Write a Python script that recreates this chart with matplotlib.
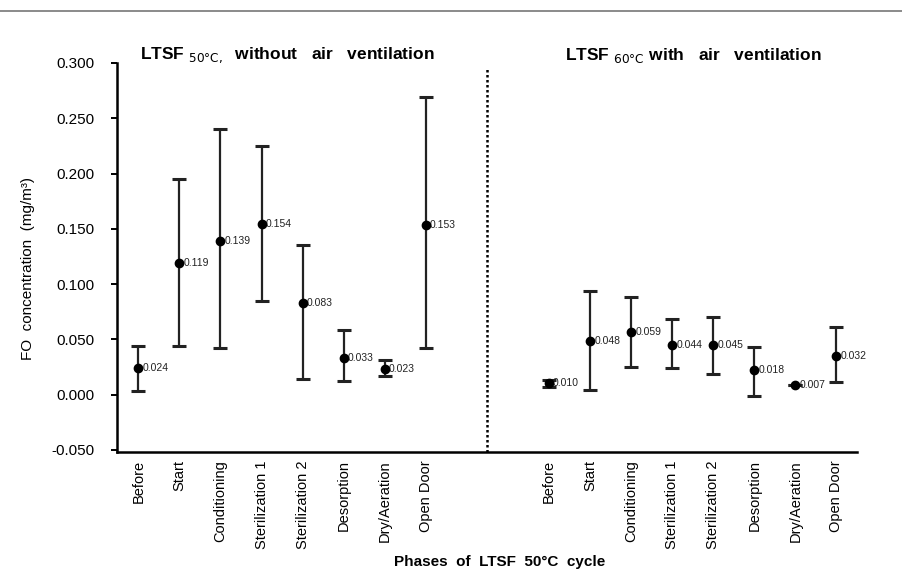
import matplotlib
matplotlib.use("Agg")
import matplotlib.pyplot as plt
from matplotlib.lines import Line2D

plt.rcParams['font.family'] = ['Liberation Sans', 'DejaVu Sans']

phases = ["Before", "Start", "Conditioning", "Sterilization 1", "Sterilization 2",
          "Desorption", "Dry/Aeration", "Open Door"]

# without air ventilation
no_vent_mean = [0.024, 0.119, 0.139, 0.154, 0.083, 0.033, 0.023, 0.153]
no_vent_low = [0.003, 0.044, 0.042, 0.085, 0.014, 0.012, 0.017, 0.042]
no_vent_high = [0.044, 0.195, 0.240, 0.225, 0.135, 0.058, 0.031, 0.269]
no_vent_labels = ["0.024", "0.119", "0.139", "0.154", "0.083", "0.033", "0.023", "0.153"]

# with air ventilation
vent_mean = [0.010, 0.048, 0.057, 0.045, 0.045, 0.022, 0.009, 0.035]
vent_low = [0.007, 0.004, 0.025, 0.024, 0.019, -0.001, 0.009, 0.011]
vent_high = [0.013, 0.094, 0.088, 0.068, 0.070, 0.043, 0.009, 0.061]
vent_labels = ["0.010", "0.048", "0.059", "0.044", "0.045", "0.018", "0.007", "0.032"]

yticks = [-0.05, 0.0, 0.05, 0.10, 0.15, 0.20, 0.25, 0.30]

fig = plt.figure(figsize=(9.02, 5.81), dpi=100)
ax = fig.add_axes([117/902, 1-452/581, (857-117)/902, (452-63)/581])

x_left = list(range(8))
x_right = [10 + i for i in range(8)]

def draw(xs, mean, low, high, labels):
    yerr = [[m - l for m, l in zip(mean, low)], [h - m for m, h in zip(mean, high)]]
    ax.errorbar(xs, mean, yerr=yerr, fmt='o', color='black', ecolor='#222222',
                markersize=6, capsize=4.8, capthick=2.2, elinewidth=1.6, zorder=3)
    for x, m, t in zip(xs, mean, labels):
        ax.text(x + 0.1, m, t, fontsize=7.5, va='center', ha='left', color='#222222')

draw(x_left, no_vent_mean, no_vent_low, no_vent_high, no_vent_labels)
draw(x_right, vent_mean, vent_low, vent_high, vent_labels)

ax.set_xlim(-0.52, 17.5)
ax.set_ylim(-0.052, 0.300)
ax.set_yticks(yticks)
ax.set_yticklabels([f"{v:.3f}" for v in yticks], fontsize=11)
ax.set_xticks(x_left + x_right)
ax.set_xticklabels(phases + phases, rotation=90, fontsize=10.5, va='top')
ax.tick_params(axis='x', length=0, pad=6)
ax.tick_params(axis='y', length=4, direction='out', pad=12, width=1.4)

for s in ['top', 'right']:
    ax.spines[s].set_visible(False)
ax.spines['left'].set_linewidth(1.8)
ax.spines['bottom'].set_linewidth(1.8)

# dotted divider between panels
ax.axvline(8.5, ymin=0, ymax=0.99, color='black', linestyle=(0, (1, 1)), linewidth=1.8)

fig.text(28/902, 1-268/581, "FO  concentration  (mg/m³)", fontsize=11,
         rotation=90, ha='center', va='center')
fig.text(500/902, 1-562/581, "Phases  of  LTSF  50°C  cycle", fontsize=11,
         fontweight='bold', ha='center', va='center')

ax.text(0.05, 0.307, r"LTSF $_{\mathrm{50°C},}$  without   air   ventilation", fontsize=12.5,
        fontweight='bold', ha='left', va='center', clip_on=False)
ax.text(10.4, 0.307, r"LTSF $_{\mathrm{60°C}}$ with   air   ventilation", fontsize=12.5,
        fontweight='bold', ha='left', va='center', clip_on=False)

fig.add_artist(Line2D([0, 1], [1 - 11/581, 1 - 11/581], color='#777777', linewidth=1.2,
                      transform=fig.transFigure))

fig.savefig("out.png", dpi=100)
